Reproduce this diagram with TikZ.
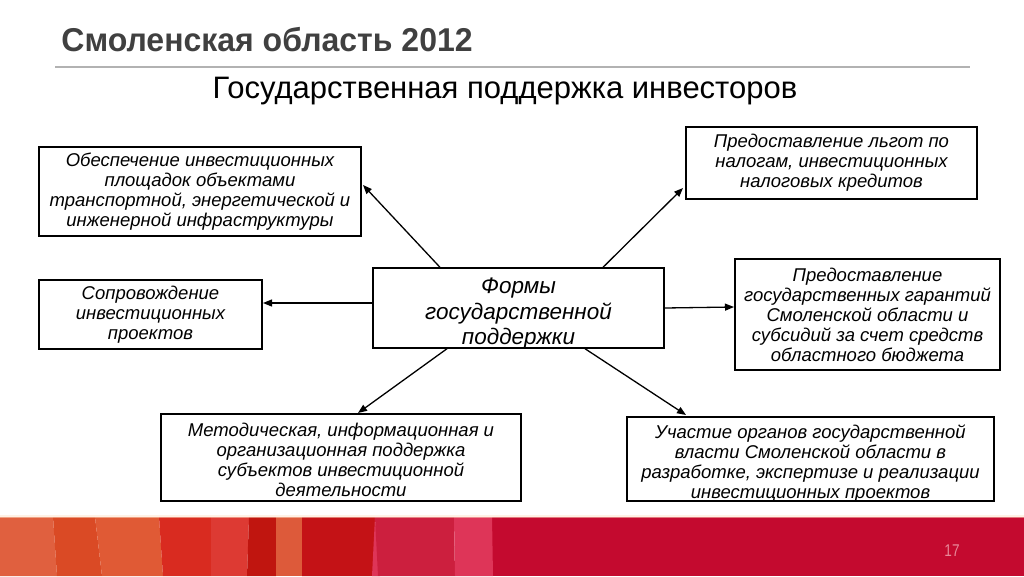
\documentclass[tikz,border=0pt]{standalone}
\usepackage{fontspec}
\setmainfont{Liberation Sans}
\usetikzlibrary{arrows.meta,calc}
\definecolor{hdr}{HTML}{404040}
\definecolor{s1}{HTML}{E0603F}
\definecolor{s2}{HTML}{DA4A25}
\definecolor{s3}{HTML}{E05A35}
\definecolor{s4}{HTML}{D92B20}
\definecolor{s5}{HTML}{DD3A33}
\definecolor{s6}{HTML}{C0150F}
\definecolor{s7}{HTML}{DD5A3A}
\definecolor{s8}{HTML}{C41216}
\definecolor{s9}{HTML}{CC1F3E}
\definecolor{s10}{HTML}{DE3558}
\definecolor{s11}{HTML}{C40A2F}
\definecolor{pnum}{HTML}{E88898}
\tikzset{
  box/.style={draw=black, line width=1.4pt, align=center, inner sep=0pt,
    font=\itshape\fontsize{18.5}{20}\selectfont},
  txt/.style={align=center, inner sep=0pt, font=\itshape\fontsize{18.5}{20}\selectfont},
  bigtxt/.style={align=center, inner sep=0pt, font=\itshape\fontsize{22.5}{25.5}\selectfont},
  arr/.style={line width=1.3pt, -{Triangle[length=9pt,width=7pt]}},
}
\begin{document}
\begin{tikzpicture}[x=1pt,y=-1pt]
\useasboundingbox (0,0) rectangle (1024,576);
\fill[white] (0,0) rectangle (1024,576);
% bottom stripe
\fill[s11] (490,517) rectangle (1024,576);
\fill[s1] (0,517) -- (53,517) -- (57,576) -- (0,576) -- cycle;
\fill[s2] (53,517) -- (95,517) -- (102,576) -- (57,576) -- cycle;
\fill[s3] (95,517) -- (159,517) -- (163,576) -- (102,576) -- cycle;
\fill[s4] (159,517) -- (211,517) -- (211,576) -- (163,576) -- cycle;
\fill[s5] (211,517) -- (249,517) -- (247,576) -- (211,576) -- cycle;
\fill[s6] (249,517) -- (276,517) -- (276,576) -- (247,576) -- cycle;
\fill[s7] (276,517) -- (302,517) -- (302,576) -- (276,576) -- cycle;
\fill[s8] (302,517) -- (375,517) -- (378,576) -- (302,576) -- cycle;
\fill[s10] (375,517) -- (380,576) -- (372,576) -- cycle;
\fill[s9] (375,517) -- (454,517) -- (455,576) -- (378,576) -- cycle;
\fill[s10] (454,517) -- (492,517) -- (493,576) -- (455,576) -- cycle;
\fill[white!80!orange, opacity=0.5] (0,515) rectangle (1024,518);
\node[text=pnum, font=\fontsize{17}{17}\selectfont, xscale=0.8] (pn) at (952,551) {17};
% header
\node[text=hdr, font=\bfseries\fontsize{33}{33}\selectfont, anchor=west, xscale=0.97] (hd) at (58,40) {Смоленская область 2012};
\draw[gray!60, line width=2pt] (55,67) -- (970,67);
\node[font=\fontsize{31}{31}\selectfont] (tt) at (505,91) {Государственная поддержка инвесторов};
% boxes
\node[box, minimum width=322pt, minimum height=89pt] (b1) at (200,191.5)
  {Обеспечение инвестиционных\\площадок объектами\\транспортной, энергетической и\\инженерной инфраструктуры};
\node[box, minimum width=223pt, minimum height=69pt] (b2) at (150.5,314.5)
  {Сопровождение\\инвестиционных\\проектов};
\node[box, minimum width=291pt, minimum height=80pt] (c) at (518.5,308) {};
\node[bigtxt] (ct) at ($(c.center)+(0,6)$) {Формы\\государственной\\поддержки};
\node[box, minimum width=291pt, minimum height=72pt] (b4) at (831.5,163)
  {Предоставление льгот по\\налогам, инвестиционных\\налоговых кредитов};
\node[box, minimum width=265pt, minimum height=111pt] (b5) at (867.5,314.5)
  {Предоставление\\государственных гарантий\\Смоленской области и\\субсидий за счет средств\\областного бюджета};
\node[box, minimum width=360pt, minimum height=87pt] (b6) at (341,457.5) {};
\node[txt] (b6t) at ($(b6.center)+(0,2)$)
  {Методическая, информационная и\\организационная поддержка\\субъектов инвестиционной\\деятельности};
\node[box, minimum width=367pt, minimum height=84pt] (b7) at (810.5,459) {};
\node[txt] (b7t) at ($(b7.center)+(0,5)$)
  {Участие органов государственной\\власти Смоленской области в\\разработке, экспертизе и реализации\\инвестиционных проектов};
% arrow tips
\coordinate (t1) at (363,185);
\coordinate (t2) at (683,188);
\coordinate (t3) at (263,303);
\coordinate (t4) at (734,307);
\coordinate (t5) at (358,413);
\coordinate (t6) at (686,415);
\draw[arr] ($(c.north)+(-78.5,0)$) -- (t1);
\draw[arr] ($(c.north)+(84.5,0)$) -- (t2);
\draw[arr] ($(c.west)+(0,-5)$) -- (t3);
\draw[arr] (c.east) -- (t4);
\draw[arr] ($(c.south)+(-71.5,0)$) -- (t5);
\draw[arr] ($(c.south)+(66.5,0)$) -- (t6);
\end{tikzpicture}
\end{document}
